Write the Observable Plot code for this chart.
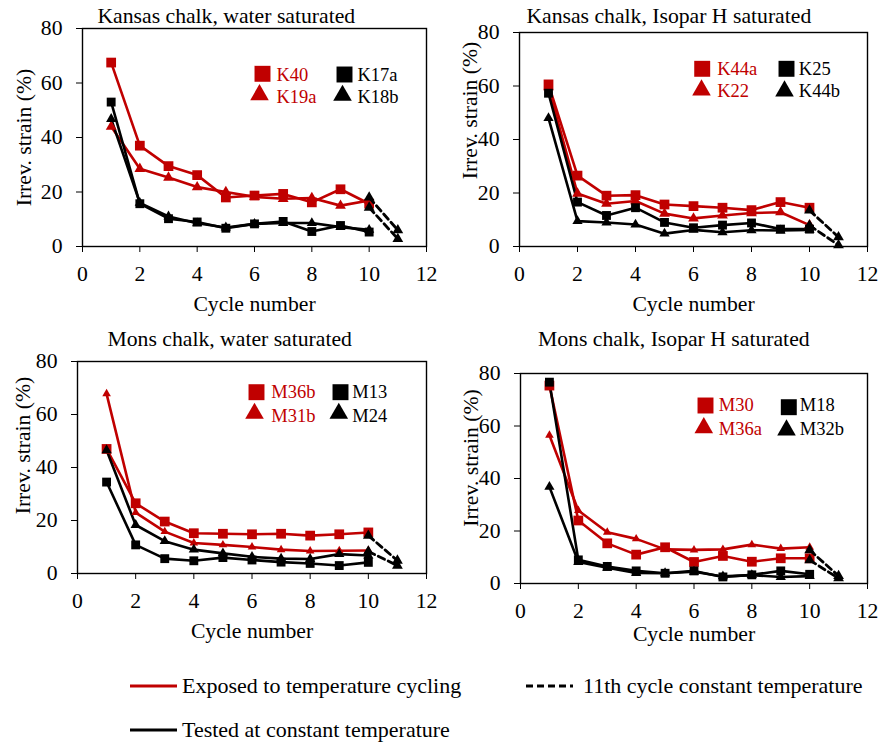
<!DOCTYPE html>
<html><head><meta charset="utf-8">
<script src="https://cdn.jsdelivr.net/npm/d3@7"></script>
<script src="https://cdn.jsdelivr.net/npm/@observablehq/plot@0.6"></script>
<style>
body{margin:0;background:#fff;}
#root{position:relative;width:880px;height:744px;font-family:'Liberation Serif','Times New Roman',serif;background:#fff;}
.panel{position:absolute;}
.leg{position:absolute;font-size:22px;line-height:30px;height:30px;white-space:nowrap;color:#000;}
.sw{position:absolute;}
</style></head>
<body><div id="root"></div>
<script>
// ---------- data ----------
const cycles = [1, 2, 3, 4, 5, 6, 7, 8, 9, 10];
const cycle11 = [10, 11];
const xTicks = [0, 2, 4, 6, 8, 10, 12];
const yTicks = [0, 20, 40, 60, 80];

const titles = ["Kansas chalk, water saturated", "Kansas chalk, Isopar H saturated",
                "Mons chalk, water saturated", "Mons chalk, Isopar H saturated"];
const xLabel = "Cycle number";
const yLabel = "Irrev. strain (%)";

// Kansas chalk, water saturated
const K40  = [67.5, 37, 29.5, 26.2, 18, 18.7, 19.3, 16.2, 21, 15.7];
const K19a = [44, 28.5, 25.3, 21.8, 20, 18.2, 17.5, 17.8, 15, 16.9];
const K17a = [53, 15.7, 10.2, 9, 6.7, 8.3, 9.2, 5.5, 7.7, 5.3];
const K18b = [46.8, 16, 11, 8.5, 7, 8.3, 8.6, 8.6, 7.1, 6.1];
const K40_11  = [14.3, 2.8];
const K19a_11 = [18, 6];

// Kansas chalk, Isopar H saturated
const K44a = [60.6, 26.5, 19, 19.2, 15.7, 15.1, 14.5, 13.6, 16.6, 14.5];
const K22  = [59.6, 19.8, 16, 17, 12.3, 10.5, 11.6, 12.5, 12.8, 8];
const K25  = [57.3, 16.6, 11.6, 14.5, 9, 7, 8, 8.8, 6.5, 6.5];
const K44b = [48, 9.5, 9, 8.2, 4.8, 6.2, 5.3, 6.1, 6.0, 6.2];
const K44a_11 = [13.5, 3.5];
const K22_11  = [7.9, 0.5];

// Mons chalk, water saturated
const M36b = [47, 26.5, 19.6, 15.2, 15, 14.8, 15, 14.3, 14.8, 15.5];
const M31b = [67.8, 23, 15.8, 11.5, 10.8, 10, 9, 8.5, 8.6, 8.7];
const M13  = [34.5, 10.8, 5.6, 4.8, 6.0, 5.1, 4.3, 3.8, 3, 4.2];
const M24  = [46.5, 18.3, 12.2, 9, 7.6, 6.3, 5.6, 5.5, 7.3, 6.8];
const M36b_11 = [14.3, 4.9];
const M31b_11 = [8.3, 3];

// Mons chalk, Isopar H saturated
const M30  = [75.4, 24, 15.3, 11, 13.8, 8.2, 10.5, 8.3, 9.6, 9.6];
const M36a = [56.5, 27.8, 19.5, 17, 13, 12.8, 13, 14.8, 13.3, 13.8];
const M18  = [76.7, 9, 6.5, 4.8, 3.9, 4.8, 2.5, 3.3, 4.8, 3.5];
const M32b = [36.8, 8.2, 6, 4, 3.9, 4.5, 2.7, 3.2, 2.5, 2.8];
const M30_11  = [12.7, 2.9];
const M36a_11 = [8.9, 2];

const legendLabels = ["Exposed to temperature cycling", "11th cycle constant temperature", "Tested at constant temperature"];

// ---------- styles / layout ----------
const RED = "#C00000";
const FONT = "'Liberation Serif','Times New Roman',serif";

const panels = [
  {title: titles[0], names: ["K40", "K19a", "K17a", "K18b"], series: [K40, K19a, K17a, K18b], c11: [K40_11, K19a_11],
   box: {left: 0, top: 0, w: 440, h: 320}, m: {top: 28, right: 14, bottom: 74, left: 82},
   t: [-28.2, -5.3], xl: 64, yl: [-58.5, 0],
   lg: {rSq: [180, 45.3], rTri: [177, 66.3], rTx: 194, rows: [46.7, 68.3], bSq: [262, 46], bTri: [260, 67], bTx: 275}, small: false},
  {title: titles[1], names: ["K44a", "K22", "K25", "K44b"], series: [K44a, K22, K25, K44b], c11: [K44a_11, K22_11],
   box: {left: 440, top: 0, w: 440, h: 320}, m: {top: 32, right: 13, bottom: 74, left: 79},
   t: [-24.7, -9.3], xl: 64, yl: [-49, -29],
   lg: {rSq: [182.7, 36.3], rTri: [182, 57.6], rTx: 197.7, rows: [36.3, 58.7], bSq: [267, 36.3], bTri: [265, 58.6], bTx: 279.3}, small: false},
  {title: titles[2], names: ["M36b", "M31b", "M13", "M24"], series: [M36b, M31b, M13, M24], c11: [M36b_11, M31b_11],
   box: {left: 0, top: 320, w: 440, h: 340}, m: {top: 41, right: 14, bottom: 87, left: 77},
   t: [-22.3, -15.3], xl: 64, yl: [-54.5, -22],
   lg: {rSq: [179, 30.7], rTri: [177, 52], rTx: 193.7, rows: [30.7, 54.7], bSq: [263, 30.7], bTri: [261.3, 52], bTx: 274.7}, small: true},
  {title: titles[3], names: ["M30", "M36a", "M18", "M32b"], series: [M30, M36a, M18, M32b], c11: [M30_11, M36a_11],
   box: {left: 440, top: 320, w: 440, h: 340}, m: {top: 53, right: 13, bottom: 77, left: 80},
   t: [-20.2, -27.3], xl: 57.7, yl: [-49.5, -20.5],
   lg: {rSq: [185, 32], rTri: [183.3, 54.3], rTx: 198.3, rows: [32, 55.3], bSq: [268.3, 33.7], bTri: [266, 56.6], bTx: 279.3}, small: true}
];

const root = document.getElementById("root");

function rowsOf(xs, vals, name) { return xs.map((c, i) => ({x: c, y: vals[i], name})); }

function drawPanel(p) {
  const symbols = ["square", "triangle", "square", "triangle"];
  const colors = [RED, RED, "#000", "#000"];
  const marks = [];
  p.series.forEach((vals, i) => {
    const rows = rowsOf(cycles, vals, p.names[i]);
    marks.push(Plot.line(rows, {x: "x", y: "y", stroke: colors[i], strokeWidth: 2.6}));
  });
  p.series.forEach((vals, i) => {
    const rows = rowsOf(cycles, vals, p.names[i]);
    const isSq = symbols[i] === "square";
    let r = isSq ? (i < 2 ? 5.5 : 5) : (i < 2 ? (p.small ? 3.2 : 4) : 3.8);
    marks.push(Plot.dot(rows, {x: "x", y: "y", symbol: symbols[i], r, fill: colors[i], stroke: "none"}));
  });
  p.c11.forEach((vals, i) => {
    const rows = rowsOf(cycle11, vals, "c11_" + i);
    marks.push(Plot.line(rows, {x: "x", y: "y", stroke: "#000", strokeWidth: 2.8, strokeDasharray: "7,4"}));
    marks.push(Plot.dot(rows, {x: "x", y: "y", symbol: "triangle", r: 4, fill: "#000", stroke: "none"}));
  });
  marks.push(Plot.frame({stroke: "#000", strokeWidth: 1.4}));
  marks.push(Plot.text([p.title], {text: d => d, frameAnchor: "top", dx: p.t[0], dy: p.t[1], textAnchor: "middle", lineAnchor: "bottom", fontSize: 21.7, fill: "#000"}));
  marks.push(Plot.text([xLabel], {text: d => d, frameAnchor: "bottom", dy: p.xl, textAnchor: "middle", lineAnchor: "bottom", fontSize: 21.7, fill: "#000"}));
  marks.push(Plot.text([yLabel], {text: d => d, frameAnchor: "left", rotate: -90, dx: p.yl[0], dy: p.yl[1], textAnchor: "middle", lineAnchor: "middle", fontSize: 21.7, fill: "#000"}));
  const L = p.lg;
  const legItems = [
    {sym: "square", pos: L.rSq, r: 9, fill: RED, tx: L.rTx, ty: L.rows[0], name: p.names[0]},
    {sym: "triangle", pos: L.rTri, r: 6.9, fill: RED, tx: L.rTx, ty: L.rows[1], name: p.names[1]},
    {sym: "square", pos: L.bSq, r: 9, fill: "#000", tx: L.bTx, ty: L.rows[0], name: p.names[2]},
    {sym: "triangle", pos: L.bTri, r: 6.9, fill: "#000", tx: L.bTx, ty: L.rows[1], name: p.names[3]}
  ];
  legItems.forEach(it => {
    marks.push(Plot.dot([it.name], {frameAnchor: "top-left", dx: it.pos[0], dy: it.pos[1], symbol: it.sym, r: it.r, fill: it.fill, stroke: "none"}));
    marks.push(Plot.text([it.name], {text: d => d, frameAnchor: "top-left", dx: it.tx, dy: it.ty, textAnchor: "start", lineAnchor: "middle", fontSize: 18.5, fill: it.fill}));
  });

  const svg = Plot.plot({
    width: p.box.w, height: p.box.h,
    marginTop: p.m.top, marginRight: p.m.right, marginBottom: p.m.bottom, marginLeft: p.m.left,
    style: {fontFamily: FONT, fontSize: "21.7px", background: "transparent", overflow: "visible", color: "#000"},
    x: {domain: [0, 12], ticks: xTicks, tickSize: 6, tickPadding: 13, label: null},
    y: {domain: [0, 80], ticks: yTicks, tickSize: 6, tickPadding: 14, label: null},
    marks
  });
  const div = document.createElement("div");
  div.className = "panel";
  div.style.left = p.box.left + "px";
  div.style.top = p.box.top + "px";
  div.style.width = p.box.w + "px";
  div.style.height = p.box.h + "px";
  div.appendChild(svg);
  root.appendChild(div);
}
panels.forEach(drawPanel);

// ---------- bottom legend ----------
function swatch(left, cy, color, dash) {
  const ns = "http://www.w3.org/2000/svg";
  const s = document.createElementNS(ns, "svg");
  s.setAttribute("class", "sw");
  s.setAttribute("width", 48); s.setAttribute("height", 8);
  s.style.left = left + "px"; s.style.top = (cy - 4) + "px";
  const l = document.createElementNS(ns, "line");
  l.setAttribute("x1", 0); l.setAttribute("x2", 47); l.setAttribute("y1", 4); l.setAttribute("y2", 4);
  l.setAttribute("stroke", color); l.setAttribute("stroke-width", 3);
  if (dash) l.setAttribute("stroke-dasharray", dash);
  s.appendChild(l);
  root.appendChild(s);
}
function legText(left, cy, txt) {
  const d = document.createElement("div");
  d.className = "leg";
  d.style.left = left + "px"; d.style.top = (cy - 15) + "px";
  d.textContent = txt;
  root.appendChild(d);
}
swatch(130, 686, RED); legText(182, 686, legendLabels[0]);
swatch(526, 686, "#000", "7,4"); legText(583, 686, legendLabels[1]);
swatch(130, 730, "#000"); legText(182, 730, legendLabels[2]);
</script>
</body></html>
